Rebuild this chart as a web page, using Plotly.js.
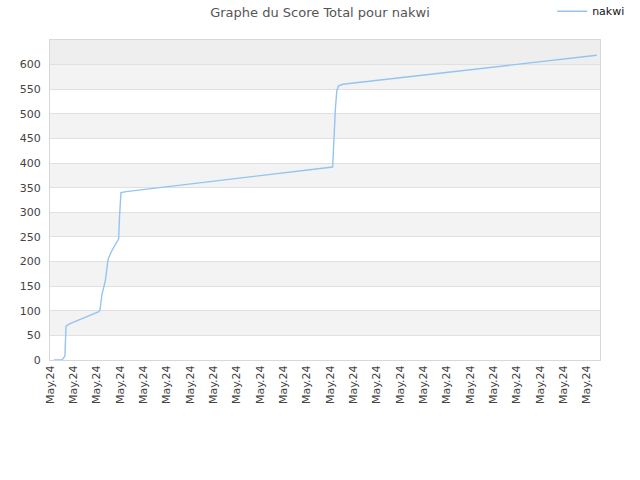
<!DOCTYPE html>
<html>
<head>
<meta charset="utf-8">
<script src="https://cdn.plot.ly/plotly-3.0.1.min.js"></script>
<style>
  html, body { margin: 0; padding: 0; background: #fff; }
  #chart { width: 640px; height: 480px; }
</style>
</head>
<body>
<div id="chart"></div>
<script>
// score history for nakwi
const times = [
  '2024-05-01 04:00', '2024-05-01 12:15', '2024-05-01 15:20', '2024-05-01 16:30',
  '2024-05-01 20:40', '2024-05-03 02:10', '2024-05-03 03:20', '2024-05-03 05:30',
  '2024-05-03 08:50', '2024-05-03 11:45', '2024-05-03 15:20', '2024-05-03 22:35',
  '2024-05-03 23:30', '2024-05-04 01:00', '2024-05-04 06:15', '2024-05-13 02:40',
  '2024-05-13 03:20', '2024-05-13 04:20', '2024-05-13 05:30', '2024-05-13 07:00',
  '2024-05-13 08:40', '2024-05-13 13:10', '2024-05-24 10:20',
];
const scores = [
  0, 0, 8, 69,
  74, 98, 101, 134,
  160, 205, 221, 246,
  291, 340, 342, 392,
  419, 473, 510, 547,
  557, 560, 619,
];
const playerName = 'nakwi';
const yTicks = [0, 50, 100, 150, 200, 250, 300, 350, 400, 450, 500, 550, 600];
const yMax = 650;

// alternating horizontal bands behind the grid
const bands = [];
for (let i = 0; i < yTicks.length; i++) {
  const lo = yTicks[i];
  const hi = i + 1 < yTicks.length ? yTicks[i + 1] : yMax;
  let fill = null;
  if (i === yTicks.length - 1) {
    fill = '#eeeeee';
  } else if (i % 2 === 1) {
    fill = '#f3f3f3';
  }
  if (fill) {
    bands.push({
      type: 'rect', xref: 'paper', yref: 'y', layer: 'below',
      x0: 0, x1: 1, y0: lo, y1: hi,
      fillcolor: fill, line: { width: 0 },
    });
  }
}

const trace = {
  x: times,
  y: scores,
  type: 'scatter',
  mode: 'lines',
  name: playerName,
  line: { color: '#94c4f2', width: 1.4 },
};

const layout = {
  width: 640,
  height: 480,
  font: { family: 'DejaVu Sans, sans-serif', size: 11, color: '#444' },
  paper_bgcolor: '#ffffff',
  plot_bgcolor: '#ffffff',
  margin: { l: 50, r: 40, t: 40, b: 120, pad: 0, autoexpand: false },
  title: {
    text: 'Graphe du Score Total pour ' + playerName,
    font: { size: 13, color: '#555' },
    x: 0.5, xanchor: 'center',
    y: 0.975, yanchor: 'middle',
  },
  showlegend: true,
  legend: {
    x: 0.913, xanchor: 'left',
    y: 1.09, yanchor: 'middle',
    font: { size: 11, color: '#111' },
    bgcolor: 'rgba(0,0,0,0)',
  },
  xaxis: {
    type: 'date',
    range: ['2024-05-01 00:00', '2024-05-24 13:40'],
    tick0: '2024-05-01',
    dtick: 86400000,
    tickformat: '%b.%y',
    tickangle: -90,
    tickfont: { size: 11, color: '#444' },
    showgrid: false,
    zeroline: false,
    showline: true,
    linecolor: '#d8d8d8',
    linewidth: 1,
    mirror: true,
    ticks: '',
  },
  yaxis: {
    range: [0, yMax],
    tickvals: yTicks,
    tickfont: { size: 11, color: '#444' },
    showgrid: true,
    gridcolor: '#e0e0e0',
    gridwidth: 1,
    zeroline: false,
    showline: true,
    linecolor: '#d8d8d8',
    linewidth: 1,
    mirror: true,
    ticks: 'outside',
    ticklen: 6,
    tickcolor: '#ffffff',
  },
  shapes: bands,
};

Plotly.newPlot('chart', [trace], layout, { displayModeBar: false, staticPlot: true });
</script>
</body>
</html>
